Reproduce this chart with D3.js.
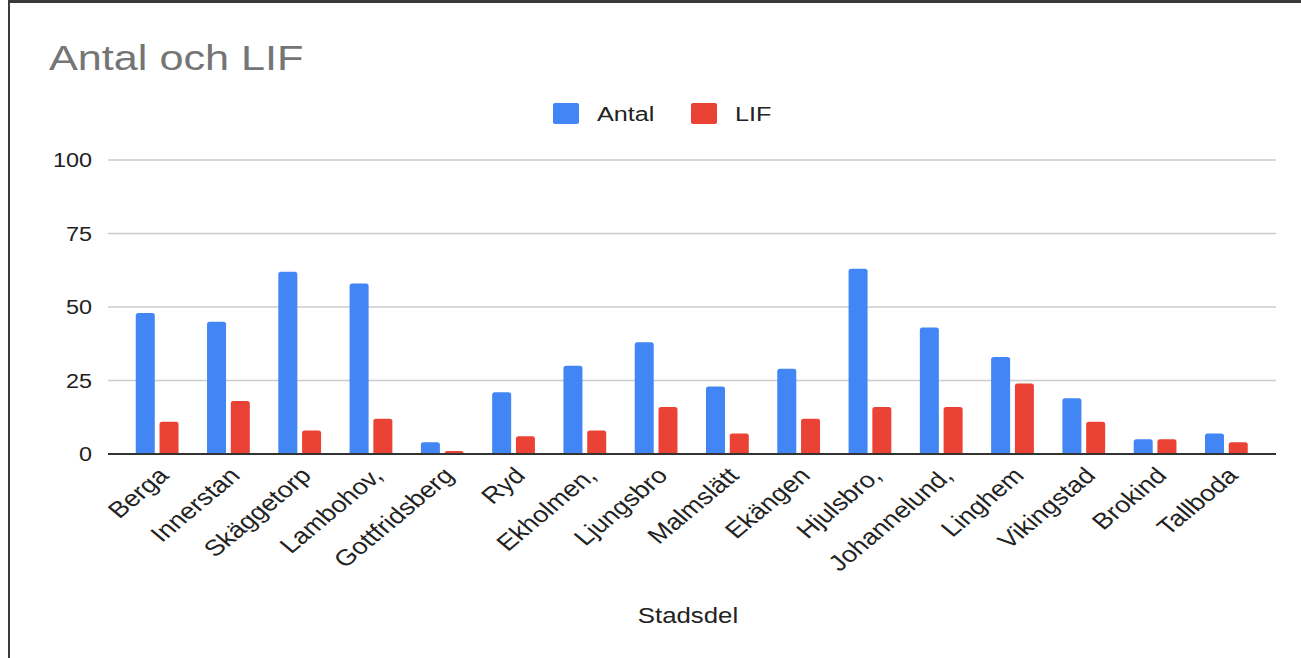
<!DOCTYPE html>
<html>
<head>
  <meta charset="utf-8">
  <title>Antal och LIF</title>
  <script src="https://d3js.org/d3.v7.min.js"></script>
  <style>
    body { margin: 0; background: #fff; }
    text { font-family: "Liberation Sans", Arial, sans-serif; }
  </style>
</head>
<body>
  <svg id="chart"></svg>
  <script>
    // data
    const stadsdelar = ["Berga", "Innerstan", "Skäggetorp", "Lambohov,", "Gottfridsberg", "Ryd",
      "Ekholmen,", "Ljungsbro", "Malmslätt", "Ekängen", "Hjulsbro,", "Johannelund,",
      "Linghem", "Vikingstad", "Brokind", "Tallboda"];
    const antal = [48, 45, 62, 58, 4, 21, 30, 38, 23, 29, 63, 43, 33, 19, 5, 7];
    const lif   = [11, 18, 8, 12, 1, 6, 8, 16, 7, 12, 16, 16, 24, 11, 5, 4];
    const serier = ["Antal", "LIF"];
    const yTicks = [0, 25, 50, 75, 100];

    const colors = { Antal: "#4285f4", LIF: "#ea4335" };
    const sx = 1.2; // the screenshot is stretched sideways

    const W = 1301, H = 658;
    const svg = d3.select("#chart").attr("width", W).attr("height", H);

    svg.append("rect").attr("width", W).attr("height", H).attr("fill", "#fff");
    // frame of the screenshot
    svg.append("rect").attr("x", 8).attr("y", 0).attr("width", W - 8).attr("height", 3).attr("fill", "#3a3a3a");
    svg.append("rect").attr("x", 8).attr("y", 0).attr("width", 2).attr("height", H).attr("fill", "#3a3a3a");

    const rows = stadsdelar.map((s, i) => ({ name: s, Antal: antal[i], LIF: lif[i] }));

    const x = d3.scaleBand().domain(stadsdelar).range([121.5, 1262])
      .paddingInner(0.4).paddingOuter(0.2);
    const xs = d3.scaleBand().domain(serier).range([0, x.bandwidth()]).paddingInner(0.2);
    const y = d3.scaleLinear().domain([0, 100]).range([454, 160]);

    // title
    svg.append("text").attr("transform", `translate(49,70) scale(${sx},1)`)
      .attr("font-size", 36).attr("fill", "#757575").text("Antal och LIF");

    // legend
    const leg = [{ k: "Antal", x: 553 }, { k: "LIF", x: 691 }];
    leg.forEach(l => {
      svg.append("rect").attr("x", l.x).attr("y", 103).attr("width", 26).attr("height", 21)
        .attr("rx", 2).attr("fill", colors[l.k]);
      svg.append("text").attr("transform", `translate(${l.x + 44},121) scale(${sx},1)`)
        .attr("font-size", 21).attr("fill", "#222").text(l.k);
    });

    // gridlines + y labels
    const grid = svg.append("g");
    yTicks.forEach(t => {
      if (t > 0) {
        grid.append("line").attr("x1", 108).attr("x2", 1276)
          .attr("y1", y(t)).attr("y2", y(t)).attr("stroke", "#cccccc").attr("stroke-width", 1.3);
      }
      grid.append("text").attr("transform", `translate(92,${y(t) + 7}) scale(${sx},1)`)
        .attr("text-anchor", "end").attr("font-size", 19.5).attr("fill", "#222").text(t);
    });

    // bars, rounded on top
    function topRounded(x0, y0, w, h, r) {
      r = Math.min(r, h, w / 2);
      return `M${x0},${y0 + h}V${y0 + r}Q${x0},${y0} ${x0 + r},${y0}H${x0 + w - r}` +
        `Q${x0 + w},${y0} ${x0 + w},${y0 + r}V${y0 + h}Z`;
    }
    const groups = svg.append("g").selectAll("g").data(rows).join("g")
      .attr("transform", d => `translate(${x(d.name)},0)`);
    groups.selectAll("path").data(d => serier.map(k => ({ k, v: d[k] }))).join("path")
      .attr("fill", d => colors[d.k])
      .attr("d", d => topRounded(xs(d.k), y(d.v), xs.bandwidth(), y(0) - y(d.v), 2.5));

    // baseline
    svg.append("line").attr("x1", 108).attr("x2", 1276).attr("y1", y(0)).attr("y2", y(0))
      .attr("stroke", "#333").attr("stroke-width", 2);

    // x labels
    svg.append("g").selectAll("text").data(stadsdelar).join("text")
      .attr("transform", d => `translate(${x(d) + x.bandwidth() / 2 + 13},477) scale(${sx},1) rotate(-45)`)
      .attr("text-anchor", "end").attr("font-size", 22.5).attr("fill", "#222").text(d => d);

    // axis title
    svg.append("text").attr("transform", `translate(688,623) scale(${sx},1)`)
      .attr("text-anchor", "middle").attr("font-size", 21.5).attr("fill", "#222").text("Stadsdel");
  </script>
</body>
</html>
